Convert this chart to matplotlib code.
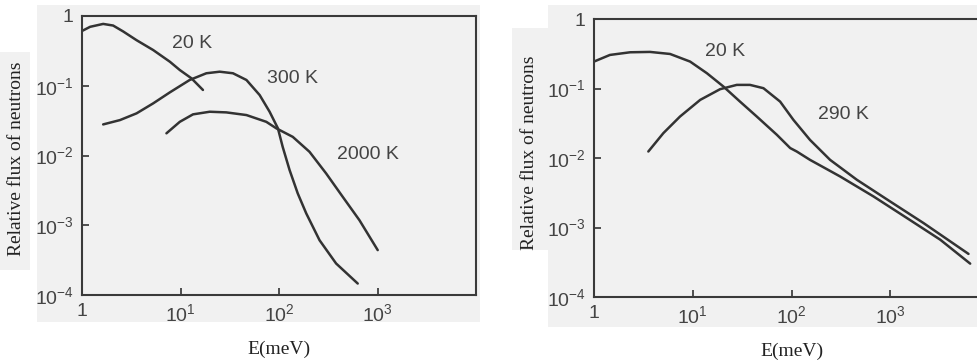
import matplotlib
matplotlib.use('Agg')
import matplotlib.pyplot as plt
from matplotlib.patches import Rectangle

plt.rcParams['mathtext.fontset'] = 'custom'
plt.rcParams['mathtext.rm'] = 'Liberation Sans'
plt.rcParams['mathtext.default'] = 'regular'

# Left panel: three temperatures
E_20K_a = [1.0, 1.21, 1.64, 2.07, 2.62, 3.58, 5.28, 7.8, 9.84, 12.9, 16.9]
F_20K_a = [0.61, 0.70, 0.77, 0.73, 0.60, 0.45, 0.325, 0.221, 0.168, 0.128, 0.087]

E_300K = [1.64, 2.43, 3.58, 5.28, 7.8, 12.4, 18.3, 25, 34.1, 46.7, 63.6, 80.3, 97.5,
          109, 128, 155, 189, 258, 380, 630]
F_300K = [0.0279, 0.0322, 0.0402, 0.0559, 0.0804, 0.121, 0.151, 0.159, 0.151, 0.121,
          0.0736, 0.0424, 0.0245, 0.0133, 0.0062, 0.00286, 0.00148, 6.1e-4, 2.83e-4, 1.46e-4]

E_2000K = [7.2, 9.84, 13.4, 19.8, 29.2, 46.7, 74.3, 94, 138, 204, 301, 444, 656, 1005]
F_2000K = [0.0208, 0.0304, 0.0389, 0.0424, 0.0415, 0.038, 0.0304, 0.0245, 0.0185,
           0.0113, 0.00553, 0.00255, 0.00118, 4.4e-4]

# Right panel: two moderator temperatures
E_20K_b = [1.0, 1.45, 2.32, 3.69, 5.89, 9.4, 13.9, 20.4, 30.1, 44.5, 71, 97, 113, 154,
           311, 676, 1473, 3206, 6450]
F_20K_b = [0.244, 0.304, 0.332, 0.336, 0.314, 0.244, 0.166, 0.107, 0.0648, 0.0395,
           0.0216, 0.0139, 0.0124, 0.0094, 0.00542, 0.0028, 0.00137, 6.68e-4, 3.02e-4]

E_290K = [3.55, 5.04, 7.43, 11.9, 18.9, 27.9, 38, 52, 76.7, 104.5, 154, 246, 459, 997,
          2170, 6200]
F_290K = [0.0124, 0.0228, 0.0395, 0.0686, 0.0977, 0.1127, 0.1127, 0.101, 0.0648, 0.0354,
          0.0182, 0.0094, 0.00486, 0.00237, 0.00116, 4.17e-4]

xticks = [1, 10, 100, 1000]
xticklabels = ['1', '$10^{1}$', '$10^{2}$', '$10^{3}$']
yticks = [1e-4, 1e-3, 1e-2, 1e-1, 1]
yticklabels = ['$10^{-4}$', '$10^{-3}$', '$10^{-2}$', '$10^{-1}$', '1']

W, H = 977, 362
fig = plt.figure(figsize=(W / 100, H / 100), dpi=100)
fig.patch.set_facecolor('white')

grey = '#f1f1f1'
line_c = '#333333'
text_c = '#444444'

# scanned grey background panels
for (x0, y0, x1, y1) in [(37, 5, 480, 322), (0, 52, 30, 270),
                         (548, 5, 977, 327), (512, 28, 548, 250)]:
    fig.patches.append(Rectangle((x0 / W, 1 - y1 / H), (x1 - x0) / W, (y1 - y0) / H,
                                 transform=fig.transFigure, facecolor=grey,
                                 edgecolor='none', zorder=0))

ax1 = fig.add_axes([82 / W, 1 - 295 / H, 394 / W, 279 / H])
ax2 = fig.add_axes([594 / W, 1 - 297 / H, 395 / W, 278 / H])

for ax in (ax1, ax2):
    ax.set_zorder(2)
    ax.set_facecolor(grey)
    ax.set_xscale('log')
    ax.set_yscale('log')
    ax.set_xlim(1, 1e4)
    ax.set_ylim(1e-4, 1)
    ax.set_xticks(xticks)
    ax.set_xticklabels(xticklabels)
    ax.set_yticks(yticks)
    ax.set_yticklabels(yticklabels)
    ax.minorticks_off()
    ax.tick_params(direction='in', length=5, width=1.2, color=line_c,
                   labelsize=14, labelcolor=text_c, pad=6)
    for lab in ax.get_xticklabels() + ax.get_yticklabels():
        lab.set_fontfamily('Liberation Sans')
    for s in ax.spines.values():
        s.set_linewidth(1.5)
        s.set_color('#3a3a3a')
    ax.set_xlabel('E(meV)', family='Liberation Serif', fontsize=14, color='#222222', labelpad=11)
    ax.set_ylabel('Relative flux of neutrons', family='Liberation Serif', fontsize=14,
                  color='#222222')

ax1.yaxis.set_label_coords(-0.145, 0.49)
ax2.yaxis.set_label_coords(-0.142, 0.52)

kw = dict(color=line_c, lw=1.8, solid_capstyle='round', solid_joinstyle='round')
ax1.plot(E_20K_a, F_20K_a, **kw)
ax1.plot(E_300K, F_300K, **kw)
ax1.plot(E_2000K, F_2000K, **kw)
tk = dict(family='Liberation Sans', fontsize=14, color=text_c, ha='center', va='center')
ax1.text(13, 0.41, '20 K', **tk)
ax1.text(137, 0.129, '300 K', **tk)
ax1.text(792, 0.0105, '2000 K', **tk)

ax2.plot(E_20K_b, F_20K_b, **kw)
ax2.plot(E_290K, F_290K, **kw)
ax2.text(21, 0.336, '20 K', **tk)
ax2.text(333, 0.042, '290 K', **tk)

fig.savefig('out.png', dpi=100, facecolor='white')
